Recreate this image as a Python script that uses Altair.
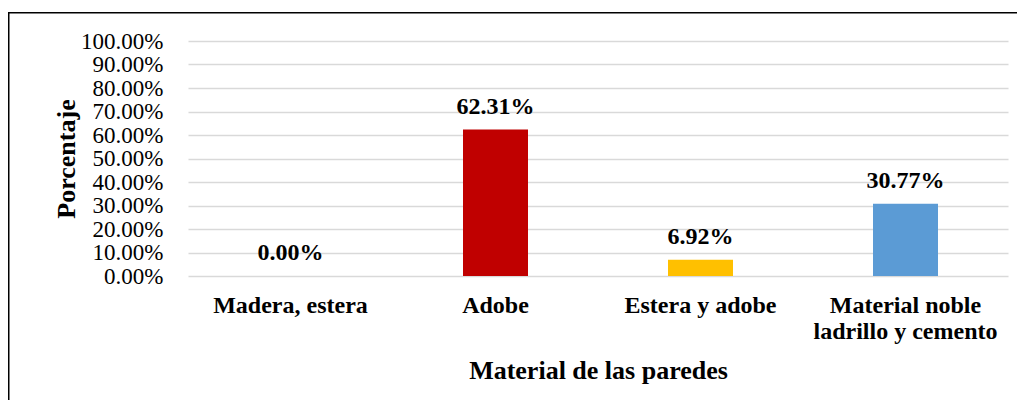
import altair as alt
import pandas as pd

categories = ["Madera, estera", "Adobe", "Estera y adobe", "Material noble ladrillo y cemento"]
percentages = [0.0000, 0.6231, 0.0692, 0.3077]
bar_colors = ["#4472C4", "#C00000", "#FFC000", "#5B9BD5"]
y_ticks = [0.0, 0.1, 0.2, 0.3, 0.4, 0.5, 0.6, 0.7, 0.8, 0.9, 1.0]

FONT = "Liberation Serif"

df = pd.DataFrame({"Material": categories, "Porcentaje": percentages})
frame_df = pd.DataFrame({"f": [0]})

x_enc = alt.X(
    "Material:N",
    sort=categories,
    scale=alt.Scale(paddingInner=0, paddingOuter=0),
    axis=alt.Axis(
        title="Material de las paredes",
        labelAngle=0,
        labelFontWeight="bold",
        labelFontSize=24,
        labelPadding=17,
        labelLineHeight=26,
        labelBaseline="top",
        labelLimit=400,
        labelOverlap=False,
        labelExpr="datum.label == 'Material noble ladrillo y cemento' ? ['Material noble', 'ladrillo y cemento'] : datum.label",
        titleY=102,
        titleBaseline="alphabetic",
        titleFontSize=26,
        titleFontWeight="bold",
        ticks=False,
        domain=False,
        grid=False,
    ),
)

y_enc = alt.Y(
    "Porcentaje:Q",
    scale=alt.Scale(domain=[0, 1], nice=False),
    axis=alt.Axis(
        title="Porcentaje",
        format=".2%",
        values=y_ticks,
        titleX=-114,
        titleBaseline="alphabetic",
        titleFontSize=26,
        titleFontWeight="bold",
        labelFontSize=23,
        labelPadding=25,
        labelOverlap=False,
        ticks=False,
        tickSize=0,
        domain=False,
        grid=True,
        gridColor="#D9D9D9",
        gridWidth=1.3,
    ),
)

bars = alt.Chart(df).mark_bar(size=65).encode(
    x=x_enc,
    y=y_enc,
    color=alt.Color("Material:N", scale=alt.Scale(domain=categories, range=bar_colors), legend=None),
)

labels = alt.Chart(df).mark_text(
    dy=-16, baseline="alphabetic", fontSize=24, fontWeight="bold", font=FONT, color="black"
).encode(
    x=x_enc,
    y=y_enc,
    text=alt.Text("Porcentaje:Q", format=".2%"),
)

frame = alt.Chart(frame_df).mark_rect(filled=False, stroke="black", strokeWidth=1.5).encode(
    x=alt.value(-179.25), x2=alt.value(830), y=alt.value(-28.3), y2=alt.value(400)
)

chart = alt.layer(frame, bars, labels).properties(
    width=820,
    height=235,
    padding={"left": 180, "top": 33, "right": 9, "bottom": 124},
    autosize=alt.AutoSizeParams(type="none"),
).configure_view(stroke=None).configure_axis(
    labelFont=FONT, titleFont=FONT, labelColor="black", titleColor="black"
).configure_axisY(labelOverlap=False)

chart.save("out.html", embed_options={"renderer": "svg", "actions": False})
